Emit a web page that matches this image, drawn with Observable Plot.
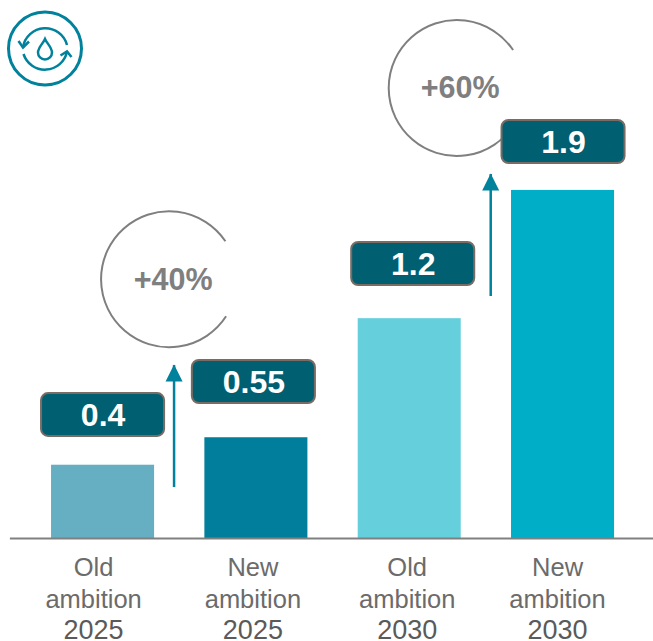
<!DOCTYPE html>
<html>
<head>
<meta charset="utf-8">
<script src="https://cdn.jsdelivr.net/npm/d3@7"></script>
<script src="https://cdn.jsdelivr.net/npm/@observablehq/plot@0.6"></script>
<style>
html,body{margin:0;padding:0;background:#fff;overflow:hidden}
svg{display:block}
</style>
</head>
<body>
<div id="chart"></div>
<script>
const categories = ["Old ambition 2025", "New ambition 2025", "Old ambition 2030", "New ambition 2030"];
const firstLines = ["Old", "New", "Old", "New"];
const years = ["2025", "2025", "2030", "2030"];
const values = [0.4, 0.55, 1.2, 1.9];
const valueLabels = ["0.4", "0.55", "1.2", "1.9"];
const barColors = ["#66afc2", "#007e9b", "#65cfdc", "#00afc7"];
const boxLow = [0.557, 0.737, 1.381, 2.047];
const boxHigh = [0.791, 0.972, 1.616, 2.282];
const boxShift = [0, -2.5, 3.5, 0.5];
const labelShift = [-9.5, -3.5, -2.5, -5.5];
const increases = ["+40%", "+60%"];
const increaseFrom = ["Old ambition 2025", "Old ambition 2030"];
const increaseY = [1.408, 2.456];
const increaseShift = [70, 50.5];
const ringY = [1.415, 2.459];
const ringShift = [66, 47];
const arrowFrom = [0.278, 1.321];
const arrowTo = [0.944, 1.987];
const arrowShift = [71, 81];

const table = categories.map((c, i) => ({c, first: firstLines[i], year: years[i], value: values[i], label: valueLabels[i], color: barColors[i], low: boxLow[i], high: boxHigh[i], boxDx: boxShift[i], labelDx: labelShift[i], mid: (boxLow[i] + boxHigh[i]) / 2}));
const growth = increases.map((t, i) => ({t, c: increaseFrom[i], y: increaseY[i], ring: ringY[i], ringDx: ringShift[i], textDx: increaseShift[i], from: arrowFrom[i], to: arrowTo[i], arrowDx: arrowShift[i]}));

const font = "'Liberation Sans', Arial, sans-serif";
const teal = "#00819c";

const openRing = {draw(ctx) {
  const r = 68, a0 = 33 * Math.PI / 180, a1 = (360 - 34) * Math.PI / 180;
  ctx.moveTo(r * Math.cos(a0), r * Math.sin(a0));
  ctx.arc(0, 0, r, a0, a1);
}};
const arrowHead = {draw(ctx) {
  ctx.moveTo(0, -1);
  ctx.lineTo(8.5, 16);
  ctx.lineTo(-8.5, 16);
  ctx.closePath();
}};

function icon() {
  const g = d3.create("svg:g").attr("transform", "translate(45,48.5)")
    .attr("fill", "none").attr("stroke", teal).attr("stroke-width", 2.5);
  g.append("circle").attr("r", 36.5).attr("stroke-width", 3);
  g.append("path").attr("d", "M-22,-1A22.5,22.5 0 0 1 22,-3.5");
  g.append("path").attr("d", "M-21.5,5.5A22.5,22.5 0 0 0 22,3");
  g.append("path").attr("d", "M-26.5,-7.5L-22,-1L-16,-7");
  g.append("path").attr("d", "M15.5,7L22,3L26.5,8.5");
  g.append("path").attr("d", "M0,-9.5C2,-5 7,-1 7,4A7,7 0 0 1 -7,4C-7,-1 -2,-5 0,-9.5Z");
  return g.node();
}

const plot = Plot.plot({
  width: 653,
  height: 641,
  marginTop: 0,
  marginBottom: 103,
  marginLeft: 25.9,
  marginRight: 13.8,
  x: {domain: categories, paddingInner: 0.328, paddingOuter: 0.164, round: false, axis: null},
  y: {domain: [0, 538 / 183.2], axis: null},
  marks: [
    icon,
    ...growth.map(g => Plot.dot([g], {x: "c", y: "ring", dx: g.ringDx, symbol: openRing, r: 1, fill: "none", stroke: "#7f7f7f", strokeWidth: 2})),
    ...growth.map(g => Plot.text([g], {x: "c", y: "y", text: "t", dx: g.textDx, fontSize: 30.5, fontWeight: "bold", fontFamily: font, fill: "#7f7f7f"})),
    Plot.barY(table, {x: "c", y: "value", fill: "color"}),
    Plot.ruleY([0], {stroke: "#808080", strokeWidth: 2, insetLeft: -16, insetRight: -14}),
    ...growth.map(g => Plot.ruleX([g], {x: "c", y1: "from", y2: "to", dx: g.arrowDx, stroke: teal, strokeWidth: 2.5})),
    ...growth.map(g => Plot.dot([g], {x: "c", y: "to", dx: g.arrowDx, symbol: arrowHead, r: 1, fill: teal, stroke: "none"})),
    ...table.map(d => Plot.barY([d], {x: "c", y1: "low", y2: "high", fill: "#006072", stroke: "#786c64", strokeWidth: 2, rx: 7, insetLeft: -10 + d.boxDx, insetRight: -10 - d.boxDx})),
    ...table.map(d => Plot.text([d], {x: "c", y: "mid", text: "label", dx: d.boxDx, dy: 1, fontSize: 32, fontWeight: "bold", fontFamily: font, fill: "#fff"})),
    ...table.map(d => Plot.text([d], {x: "c", y: 0, text: "first", dx: d.labelDx, dy: 29, fontSize: 25.5, fontFamily: font, fill: "#6b6b6b"})),
    ...table.map(d => Plot.text([d], {x: "c", y: 0, text: () => "ambition", dx: d.labelDx, dy: 61, fontSize: 25.5, fontFamily: font, fill: "#6b6b6b"})),
    ...table.map(d => Plot.text([d], {x: "c", y: 0, text: "year", dx: d.labelDx, dy: 92, fontSize: 27, fontFamily: font, fill: "#5a5a5a"}))
  ]
});
document.getElementById("chart").appendChild(plot);
</script>
</body>
</html>
